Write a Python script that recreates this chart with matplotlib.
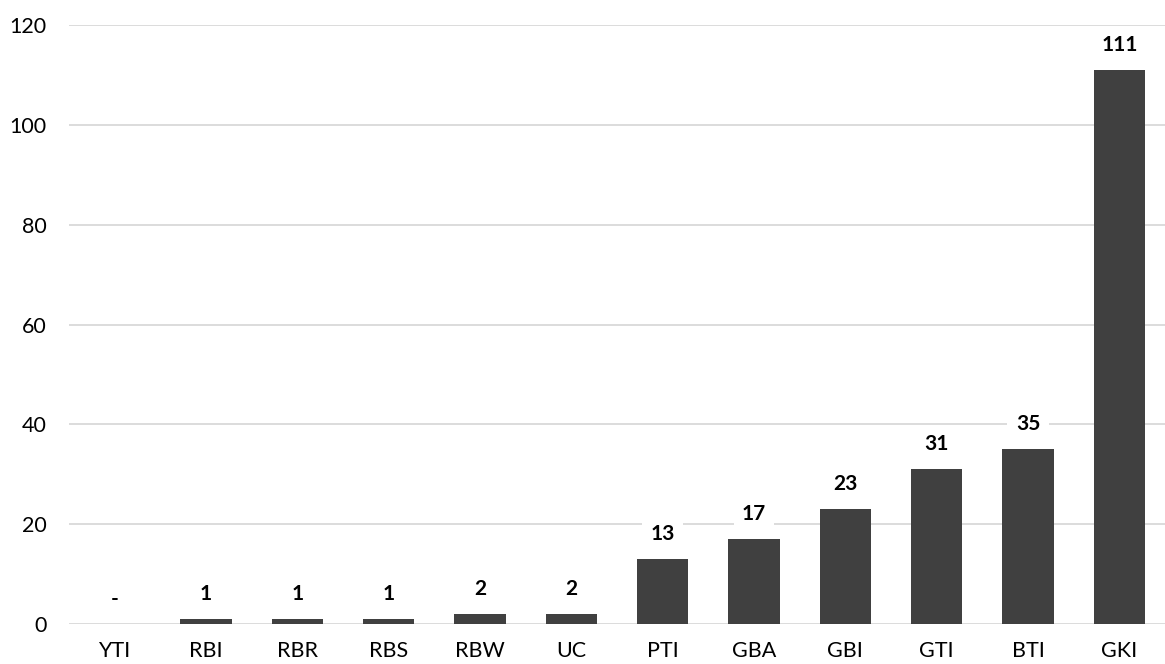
import matplotlib
matplotlib.use("Agg")
import matplotlib.pyplot as plt

categories = ["YTI", "RBI", "RBR", "RBS", "RBW", "UC", "PTI", "GBA", "GBI", "GTI", "BTI", "GKI"]
values = [0, 1, 1, 1, 2, 2, 13, 17, 23, 31, 35, 111]
labels = ["-", "1", "1", "1", "2", "2", "13", "17", "23", "31", "35", "111"]
yticks = [0, 20, 40, 60, 80, 100, 120]

plt.rcParams['font.family'] = ['Lato', 'DejaVu Sans']

fig = plt.figure(figsize=(11.65, 6.64), dpi=100)
ax = fig.add_axes([0.0592, 0.0602, 0.9408, 0.9021])
x = list(range(len(categories)))
ax.bar(x, values, width=0.56, color="#404040", zorder=3)
ax.set_xlim(-0.5, len(categories) - 0.5)
ax.set_ylim(0, 120)
ax.set_yticks(yticks)
ax.set_xticks(x)
ax.set_xticklabels(categories)
ax.yaxis.grid(True, color="#d9d9d9", linewidth=1.3, zorder=0)
ax.set_axisbelow(True)
for s in ax.spines.values():
    s.set_visible(False)
ax.tick_params(axis="both", length=0, labelsize=15.5, colors="black")
ax.tick_params(axis="x", pad=12)
ax.tick_params(axis="y", pad=16)

for xi, v, lab in zip(x, values, labels):
    ax.annotate(lab, (xi, v), xytext=(0, 18), textcoords="offset points",
                ha="center", va="center", fontsize=15, fontweight="bold",
                bbox=dict(boxstyle="square,pad=0.4", fc="white", ec="none"),
                zorder=4)

fig.savefig("out.png", dpi=100)
